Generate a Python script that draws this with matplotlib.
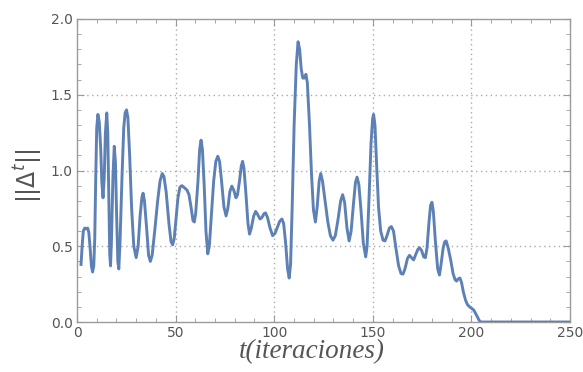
import matplotlib.pyplot as plt
from matplotlib.ticker import MultipleLocator

# iteration number and norm of the update ||Delta^t||
iters = [2.0, 2.6, 3.2, 3.9, 4.6, 5.4, 6.0, 6.7, 7.3, 7.9, 8.5, 9.0, 9.5, 10.0,
         10.6, 11.3, 12.0, 12.6, 13.2, 13.8, 14.4, 15.1, 15.6, 16.1, 16.6,
         17.0, 17.5, 18.2, 18.9, 19.5, 20.1, 20.7, 21.2, 21.8, 22.8, 23.7,
         24.4, 25.1, 25.8, 26.7, 27.7, 28.8, 30.0, 31.0, 32.0, 32.9, 33.5,
         34.2, 35.3, 36.3, 37.2, 38.1, 39.4, 40.9, 42.1, 43.2, 44.1, 45.2,
         46.7, 47.7, 48.5, 49.3, 50.2, 51.2, 52.2, 53.2, 54.6, 55.8, 56.8,
         57.8, 58.8, 59.5, 60.2, 61.3, 62.2, 62.9, 63.6, 64.5, 65.4, 66.3,
         67.1, 68.2, 69.3, 70.4, 71.4, 72.3, 73.3, 74.5, 75.6, 76.5, 77.5,
         78.5, 79.5, 80.6, 81.4, 82.4, 83.3, 84.0, 84.7, 85.7, 86.7, 87.5,
         88.4, 89.6, 90.6, 91.6, 92.8, 93.8, 94.8, 95.6, 96.6, 97.9, 99.2,
         100.4, 101.6, 102.8, 103.9, 104.8, 105.8, 106.8, 107.6, 108.3, 109.1,
         110.1, 111.2, 112.1, 112.9, 113.7, 114.5, 115.3, 116.1, 116.8, 117.9,
         118.9, 119.9, 120.9, 121.8, 122.8, 123.6, 124.5, 125.8, 127.2, 128.5,
         129.8, 131.0, 132.4, 133.7, 134.7, 135.7, 136.9, 138.0, 139.0, 140.2,
         141.2, 142.0, 142.9, 144.0, 145.2, 146.4, 147.1, 148.1, 149.1, 149.9,
         150.4, 151.1, 151.9, 152.9, 154.0, 155.2, 156.2, 157.2, 158.4, 159.4,
         160.5, 161.8, 163.1, 164.3, 165.3, 166.3, 167.6, 168.6, 169.6, 170.7,
         171.9, 172.9, 173.7, 174.8, 175.8, 176.7, 177.5, 178.5, 179.3, 180.0,
         180.7, 181.7, 182.9, 183.8, 184.6, 185.7, 186.5, 187.2, 188.2, 189.5,
         190.7, 191.7, 192.5, 193.3, 194.2, 195.0, 195.9, 197.0, 198.0, 199.1,
         200.1, 201.1, 202.0, 203.0, 203.9, 204.6, 250.0]
delta_norm = [0.37, 0.50, 0.60, 0.62, 0.615, 0.62, 0.59, 0.48, 0.37, 0.33,
              0.37, 0.55, 0.95, 1.28, 1.37, 1.32, 1.15, 0.92, 0.82, 0.95,
              1.25, 1.38, 1.25, 0.85, 0.45, 0.37, 0.55, 0.95, 1.16, 1.05,
              0.70, 0.40, 0.35, 0.52, 0.95, 1.28, 1.38, 1.40, 1.35, 1.10,
              0.75, 0.50, 0.425, 0.50, 0.70, 0.82, 0.85, 0.80, 0.62, 0.44,
              0.40, 0.44, 0.60, 0.80, 0.93, 0.98, 0.96, 0.86, 0.64, 0.53,
              0.51, 0.55, 0.68, 0.82, 0.89, 0.90, 0.885, 0.87, 0.84, 0.76,
              0.67, 0.66, 0.72, 0.92, 1.14, 1.20, 1.14, 0.90, 0.60, 0.45,
              0.50, 0.72, 0.93, 1.06, 1.094, 1.06, 0.93, 0.76, 0.70, 0.75,
              0.86, 0.897, 0.87, 0.82, 0.84, 0.93, 1.03, 1.06, 1.01, 0.84,
              0.65, 0.58, 0.62, 0.70, 0.73, 0.71, 0.68, 0.69, 0.715, 0.72,
              0.69, 0.62, 0.57, 0.585, 0.625, 0.665, 0.68, 0.65, 0.52, 0.35,
              0.29, 0.38, 0.75, 1.30, 1.70, 1.85, 1.80, 1.67, 1.61, 1.61,
              1.635, 1.58, 1.30, 0.98, 0.74, 0.66, 0.76, 0.93, 0.98, 0.93,
              0.80, 0.66, 0.57, 0.54, 0.57, 0.68, 0.80, 0.84, 0.79, 0.62,
              0.535, 0.60, 0.78, 0.92, 0.956, 0.91, 0.74, 0.52, 0.43, 0.50,
              0.82, 1.18, 1.34, 1.37, 1.30, 1.05, 0.76, 0.60, 0.54, 0.535,
              0.57, 0.62, 0.63, 0.60, 0.48, 0.37, 0.32, 0.316, 0.35, 0.42,
              0.44, 0.425, 0.41, 0.45, 0.48, 0.49, 0.47, 0.43, 0.425, 0.49,
              0.66, 0.77, 0.79, 0.73, 0.54, 0.35, 0.31, 0.38, 0.49, 0.53,
              0.535, 0.49, 0.41, 0.32, 0.28, 0.27, 0.285, 0.29, 0.26, 0.20,
              0.145, 0.115, 0.10, 0.09, 0.08, 0.06, 0.035, 0.012, 0.0, 0.0]

x_ticks = [0, 50, 100, 150, 200, 250]
y_ticks = [0.0, 0.5, 1.0, 1.5, 2.0]

frame_col = '#9a9a9a'
text_col = '#555555'

fig = plt.figure(figsize=(5.83, 3.72), dpi=100)
ax = fig.add_axes([77/583, 1 - 322/372, 493/583, 303/372])

ax.plot(iters, delta_norm, color='#5e81b5', lw=2.1,
        solid_joinstyle='round', solid_capstyle='butt', zorder=3)

ax.set_xlim(0, 250)
ax.set_ylim(0, 2.0)
ax.set_xticks(x_ticks)
ax.set_xticklabels([str(v) for v in x_ticks])
ax.set_yticks(y_ticks)
ax.set_yticklabels(['%.1f' % v for v in y_ticks])
ax.xaxis.set_minor_locator(MultipleLocator(10))
ax.yaxis.set_minor_locator(MultipleLocator(0.1))

ax.tick_params(which='both', direction='in', top=True, right=True,
               color=frame_col, labelcolor=text_col, labelsize=10, pad=3)
ax.tick_params(which='major', length=5, width=0.8)
ax.tick_params(which='minor', length=3, width=0.6)
for s in ax.spines.values():
    s.set_color(frame_col)
    s.set_linewidth(1.0)

# dotted grid at interior major ticks only
for gx in x_ticks[1:-1]:
    ax.axvline(gx, color='#aaaaaa', ls=(0, (1, 2.5)), lw=1.0, zorder=1)
for gy in y_ticks[1:-1]:
    ax.axhline(gy, color='#aaaaaa', ls=(0, (1, 2.5)), lw=1.0, zorder=1)

fig.text(312/583, 1 - 352/372, 't(iteraciones)', family='Liberation Serif',
         style='italic', fontsize=19.5, color=text_col, ha='center', va='center')
plt.rcParams['mathtext.fontset'] = 'dejavusans'
fig.text(28/583, 1 - 176/372, r'$||\Delta^t||$', fontsize=17, color=text_col,
         rotation=90, ha='center', va='center')

fig.savefig('out.png', dpi=100)
